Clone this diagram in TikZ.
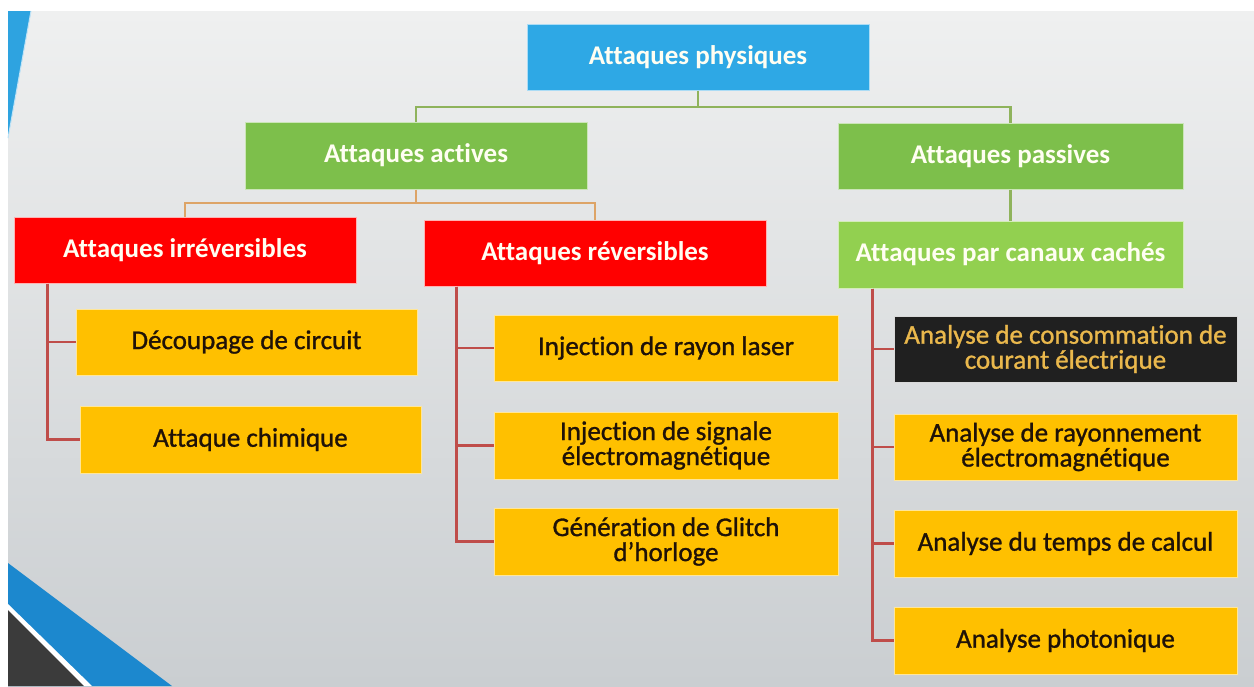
\documentclass[tikz,border=0pt]{standalone}
\usepackage{fontspec}
\setmainfont{Carlito}[Ligatures=NoCommon]
\newfontfamily\leaffont{Carlito}[FakeBold=1.1,Ligatures=NoCommon]
\usetikzlibrary{calc}
\definecolor{bgtop}{HTML}{EFF0F0}
\definecolor{bgbot}{HTML}{CACED1}
\definecolor{physblue}{HTML}{2EA8E5}
\definecolor{actgreen}{HTML}{7DBF4B}
\definecolor{cangreen}{HTML}{92D050}
\definecolor{redbox}{HTML}{FF0000}
\definecolor{amber}{HTML}{FFC000}
\definecolor{darkbox}{HTML}{202020}
\definecolor{goldtext}{HTML}{EAB84C}
\definecolor{glinec}{HTML}{8FB35C}
\definecolor{olinec}{HTML}{DDA467}
\definecolor{rlinec}{HTML}{BF4D4A}
\definecolor{decoblue}{HTML}{1C88CE}
\definecolor{decoblueb}{HTML}{2EA3E0}
\definecolor{decodark}{HTML}{3B3B3B}
\definecolor{txtdark}{HTML}{1F1208}
\begin{document}
\begin{tikzpicture}[x=1pt,y=-1pt,
  box/.style={inner sep=0pt, align=center, minimum height=66pt, minimum width=342pt, line width=1pt},
  head/.style={box, text=white!95!yellow, font=\bfseries\fontsize{27}{28}\selectfont},
  leaf/.style={box, fill=amber, draw=amber!40!white, text=txtdark, font=\leaffont\fontsize{27}{25}\selectfont},
  gline/.style={draw=glinec, line width=2.5pt},
  oline/.style={draw=olinec, line width=2.5pt},
  rline/.style={draw=rlinec, line width=2.5pt}]
\useasboundingbox (0,0) rectangle (1254,686);
% background
\fill[white] (0,0) rectangle (1254,686);
\shade[top color=bgtop, bottom color=bgbot] (8,11) rectangle (1254,686);
% decorations
\fill[decoblueb] (8,11) -- (31,11) -- (8,138) -- cycle;
\draw[white!70!decoblueb, line width=1pt] (31,11) -- (8,138);
\fill[decoblue] (8,563) -- (172,686) -- (8,686) -- cycle;
\fill[white] (8,604) -- (92,686) -- (8,686) -- cycle;
\fill[decodark] (8,610) -- (84,686) -- (8,686) -- cycle;
% nodes
\node[head, fill=physblue, draw=physblue!40!white] (phys) at (698,57) {Attaques physiques};
\node[head, fill=actgreen, draw=actgreen!40!white, minimum height=67pt] (act) at (416,155.5) {Attaques actives};
\node[head, fill=actgreen, draw=actgreen!40!white, minimum width=345pt] (pas) at (1010.5,156) {Attaques passives};
\node[head, fill=redbox, draw=redbox!30!white] (irr) at (185,250) {Attaques irréversibles};
\node[head, fill=redbox, draw=redbox!30!white] (rev) at (595,253) {Attaques réversibles};
\node[head, fill=cangreen, draw=cangreen!40!white, minimum width=345pt, minimum height=67pt] (can) at (1010.5,254.5) {Attaques par canaux cachés};
\node[leaf, minimum width=341pt] (dec) at (246.5,342) {Découpage de circuit};
\node[leaf, minimum width=341pt, minimum height=67pt] (chi) at (250.5,439.5) {Attaque chimique};
\node[leaf, minimum width=344pt] (las) at (666,348) {Injection de rayon laser};
\node[leaf, minimum width=344pt, minimum height=67pt] (sig) at (666,445.5) {Injection de signale\\électromagnétique};
\node[leaf, minimum width=344pt, minimum height=67pt] (gli) at (666,541.5) {Génération de Glitch\\d’horloge};
\node[leaf, minimum width=343pt, fill=darkbox, draw=white!85!black, text=goldtext] (con) at (1065.5,349) {Analyse de consommation de\\courant électrique};
\node[leaf, minimum width=343pt] (ray) at (1065.5,447) {Analyse de rayonnement\\électromagnétique};
\node[leaf, minimum width=343pt, minimum height=67pt] (tem) at (1065.5,543.5) {Analyse du temps de calcul};
\node[leaf, minimum width=343pt, minimum height=67pt] (pho) at (1065.5,640.5) {Analyse photonique};
% connectors
\coordinate (j1) at (698,107);
\draw[gline] (phys.south) -- (j1);
\draw[gline] (j1) -| (act.north);
\draw[gline] (j1) -| (pas.north);
\draw[gline] (pas.south) -- (can.north);
\coordinate (j2) at (416,203);
\draw[oline] (act.south) -- (j2);
\draw[oline] (j2) -| (irr.north);
\draw[oline] (j2) -| (rev.north);
\draw[rline] ([xshift=34pt]irr.south west) |- (dec.west);
\draw[rline] ([xshift=34pt]irr.south west) |- (chi.west);
\draw[rline] ([xshift=33pt]rev.south west) |- (las.west);
\draw[rline] ([xshift=33pt]rev.south west) |- (sig.west);
\draw[rline] ([xshift=33pt]rev.south west) |- (gli.west);
\draw[rline] ([xshift=35pt]can.south west) |- (con.west);
\draw[rline] ([xshift=35pt]can.south west) |- (ray.west);
\draw[rline] ([xshift=35pt]can.south west) |- (tem.west);
\draw[rline] ([xshift=35pt]can.south west) |- (pho.west);
\end{tikzpicture}
\end{document}
